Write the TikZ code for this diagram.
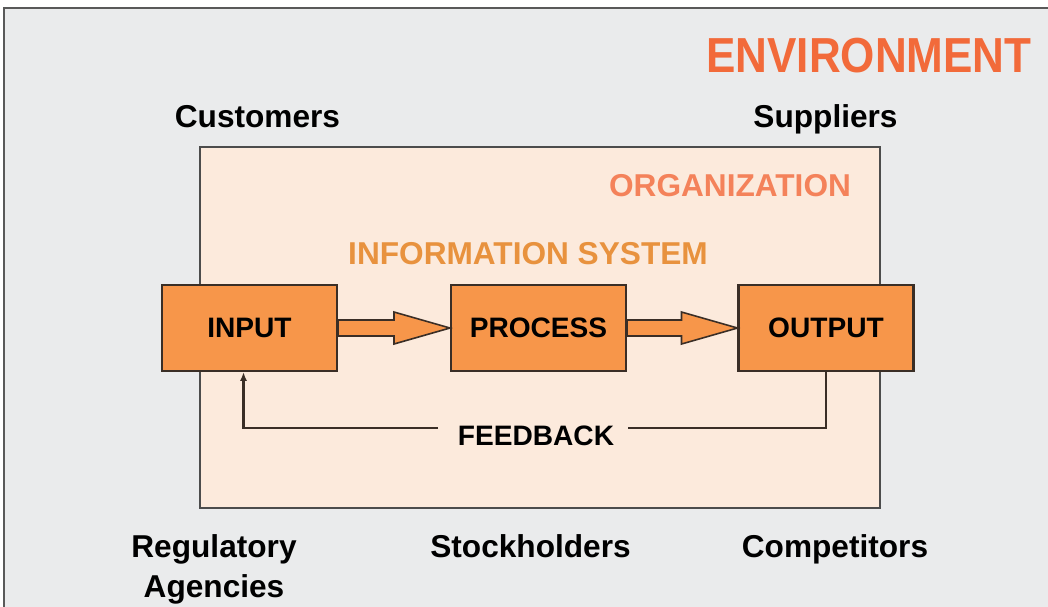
\documentclass[tikz,border=0pt]{standalone}
\usepackage{fontspec}
\setmainfont{Liberation Sans}
\usetikzlibrary{arrows.meta,calc}
\definecolor{envbg}{HTML}{EAEBEC}
\definecolor{orgbg}{HTML}{FCEADC}
\definecolor{boxfill}{HTML}{F7964A}
\definecolor{envtext}{HTML}{F26A3A}
\definecolor{orgtext}{HTML}{F4825A}
\definecolor{istext}{HTML}{E8923E}
\definecolor{edge}{HTML}{3A2E26}

\begin{document}
\begin{tikzpicture}[x=0.02cm, y=-0.02cm,
    actor/.style={font=\bfseries\fontsize{18}{22.7}\selectfont, inner sep=0pt, anchor=base},
    heading/.style={actor},
    stage/.style={draw=edge, line width=1.2pt, fill=boxfill, minimum width=3.5cm,
        minimum height=1.72cm, font=\bfseries\fontsize{16}{19}\selectfont},
    fat/.style={draw=edge, line width=0.9pt, fill=boxfill, line join=miter},
    fb/.style={draw=edge, line width=1.2pt}]
        \useasboundingbox (0,0) rectangle (1048,606);
        \fill[white] (0,0) rectangle (1048,606);
        \draw[fill=envbg, draw=gray!70!black, line width=1.2pt] (4,8) rectangle (1070,630);
        \draw[fill=orgbg, draw=gray!60!black, line width=1pt] (200,147) rectangle (880,508);

        \draw (869,72) node[actor, text=envtext] (env) {\fontsize{28}{30}\selectfont\scalebox{0.895}[1]{ENVIRONMENT}};
        \draw (257.5,127) node[actor] (cust) {Customers};
        \draw (825.5,127) node[actor] (supp) {Suppliers};
        \draw (730,196) node[heading, text=orgtext] (org) {ORGANIZATION};
        \draw (528,264) node[heading, text=istext] (is) {INFORMATION SYSTEM};

        \draw (249.5,328) node[stage] (in) {INPUT};
        \draw (538.5,328) node[stage] (proc) {PROCESS};
        \draw (826,328) node[stage] (out) {OUTPUT};

        \foreach \a/\b in {in/proc, proc/out}
            \draw[fat] ($(\a.east)+(0,-8)$) -- ($(\b.west)+(-56,-8)$) -- ($(\b.west)+(-56,-16)$)
                -- (\b.west) -- ($(\b.west)+(-56,16)$) -- ($(\b.west)+(-56,8)$)
                -- ($(\a.east)+(0,8)$) -- cycle;

        \draw (536,445) node[actor, font=\bfseries\fontsize{16}{19}\selectfont] (fbk) {FEEDBACK};
        \coordinate (fbr) at (628,428);
        \coordinate (fbl) at (438,428);
        \draw[fb] (out.south) |- (fbr);
        \draw[fb, -{Latex[length=5pt,width=4pt]}] (fbl) -| ($(in.south)+(-6,0)$);

        \draw (214,597) node[actor, align=center] (reg) {Regulatory\\Agencies};
        \draw (530.5,557) node[actor] (stock) {Stockholders};
        \draw (835,557) node[actor] (comp) {Competitors};
    \end{tikzpicture}
\end{document}
